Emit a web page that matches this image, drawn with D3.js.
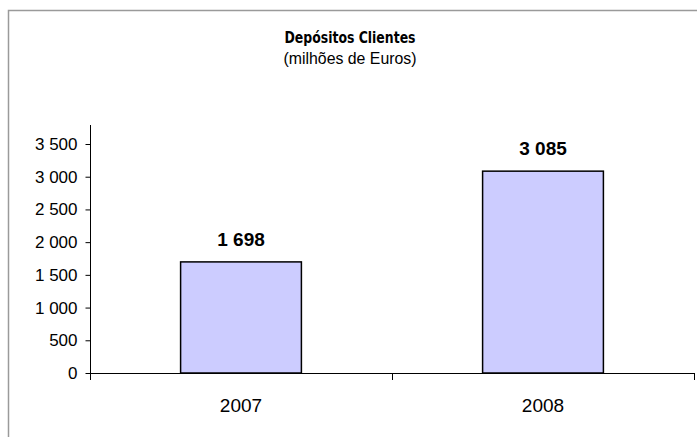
<!DOCTYPE html>
<html>
<head>
<meta charset="utf-8">
<script src="https://cdn.jsdelivr.net/npm/d3@7"></script>
<style>
  html, body { margin: 0; padding: 0; background: #fff; }
  svg { display: block; }
</style>
</head>
<body>
<svg id="chart" width="697" height="437"></svg>
<script>
// ==================== DATA ====================
const years = ['2007', '2008'];
const deposits = [1698, 3085];
const yTicks = [0, 500, 1000, 1500, 2000, 2500, 3000, 3500];
const titleText = 'Depósitos Clientes';
const subtitleText = '(milhões de Euros)';

// ==================== CHART ====================
const svg = d3.select('#chart');
const pt = d3.formatLocale({ decimal: ',', thousands: ' ', grouping: [3], currency: ['', ' €'] });
const fmt = pt.format(',d');

// outer frame (cut off at right and bottom like the original)
svg.append('rect')
  .attr('x', 8.5).attr('y', 10.5)
  .attr('width', 720).attr('height', 460)
  .attr('fill', '#fff')
  .attr('stroke', '#9a9a9a')
  .attr('stroke-width', 1.5);

const x = d3.scaleBand()
  .domain(years)
  .range([90, 694])
  .paddingInner(0.6)
  .paddingOuter(0.3);

const y = d3.scaleLinear()
  .domain([0, 3500])
  .range([373, 144]);

// titles
svg.append('text')
  .attr('x', 350).attr('y', 43)
  .attr('text-anchor', 'middle')
  .attr('font-family', '"DejaVu Sans Condensed", "DejaVu Sans", sans-serif')
  .attr('font-weight', 'bold')
  .attr('font-size', '16px')
  .attr('textLength', 131)
  .attr('lengthAdjust', 'spacingAndGlyphs')
  .attr('fill', '#000')
  .text(titleText);

svg.append('text')
  .attr('x', 350).attr('y', 64)
  .attr('text-anchor', 'middle')
  .attr('font-family', '"Liberation Sans Narrow", "Liberation Sans", sans-serif')
  .attr('font-size', '17px')
  .attr('textLength', 133)
  .attr('lengthAdjust', 'spacingAndGlyphs')
  .attr('fill', '#000')
  .text(subtitleText);

// y axis
const yAxis = svg.append('g')
  .attr('transform', 'translate(90.5,0)')
  .call(d3.axisLeft(y).tickValues(yTicks).tickSize(5).tickPadding(8).tickFormat(fmt));
yAxis.select('.domain').remove();
yAxis.selectAll('line').attr('stroke', '#000');
yAxis.selectAll('text')
  .attr('font-family', '"Liberation Sans", Arial, sans-serif')
  .attr('font-size', '17px')
  .attr('fill', '#000');
svg.append('line')
  .attr('x1', 90.5).attr('x2', 90.5)
  .attr('y1', 125).attr('y2', 380)
  .attr('stroke', '#000');

// bars
svg.append('g')
  .selectAll('rect')
  .data(deposits)
  .join('rect')
  .attr('x', (d, i) => x(years[i]))
  .attr('y', (d) => y(d))
  .attr('width', x.bandwidth())
  .attr('height', (d) => y(0) - y(d))
  .attr('fill', '#ccccff')
  .attr('stroke', '#000')
  .attr('stroke-width', 1.5);

// x axis
svg.append('line')
  .attr('x1', 90).attr('x2', 694)
  .attr('y1', 373.5).attr('y2', 373.5)
  .attr('stroke', '#000');
const xBounds = years.map((yr) => x(yr) + x.bandwidth() / 2 + x.step() / 2);
svg.append('g')
  .selectAll('line')
  .data(xBounds)
  .join('line')
  .attr('x1', (d) => Math.round(d) + 0.5)
  .attr('x2', (d) => Math.round(d) + 0.5)
  .attr('y1', 373).attr('y2', 380)
  .attr('stroke', '#000');

svg.append('g')
  .selectAll('text')
  .data(years)
  .join('text')
  .attr('x', (d) => x(d) + x.bandwidth() / 2)
  .attr('y', 412)
  .attr('text-anchor', 'middle')
  .attr('font-family', '"Liberation Sans", Arial, sans-serif')
  .attr('font-size', '19px')
  .attr('fill', '#000')
  .text((d) => d);

// value labels
svg.append('g')
  .selectAll('text')
  .data(deposits)
  .join('text')
  .attr('x', (d, i) => x(years[i]) + x.bandwidth() / 2)
  .attr('y', (d) => y(d) - 16)
  .attr('text-anchor', 'middle')
  .attr('font-family', '"Liberation Sans", Arial, sans-serif')
  .attr('font-weight', 'bold')
  .attr('font-size', '19px')
  .attr('fill', '#000')
  .text((d) => fmt(d));
</script>
</body>
</html>
